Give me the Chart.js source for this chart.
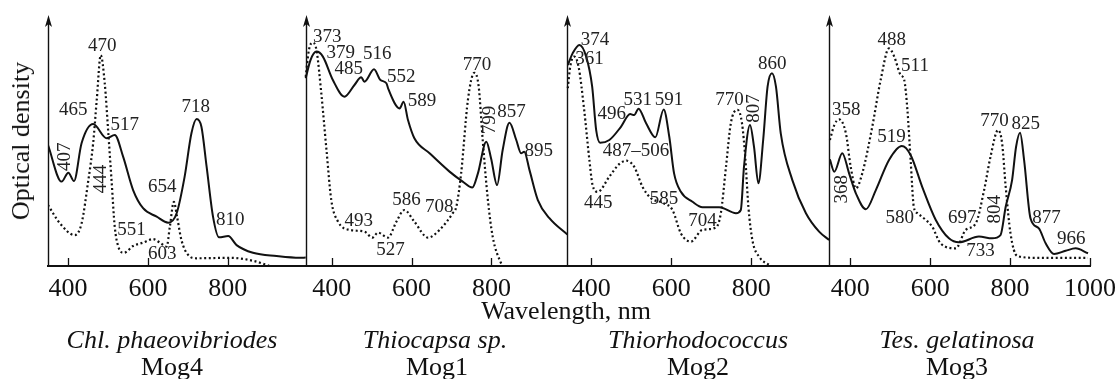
<!DOCTYPE html>
<html><head><meta charset="utf-8">
<script src="https://cdn.jsdelivr.net/npm/chart.js@4"></script>
<style>
html,body{margin:0;padding:0;background:#fff;}
#wrap{position:relative;width:1115px;height:379px;overflow:hidden;background:#fff;}
canvas{position:absolute;left:0;top:0;}
.t{position:absolute;font-family:"Liberation Serif","Times New Roman",serif;font-size:26px;line-height:26px;color:#111;white-space:nowrap;transform:translateX(-50%);}
.i{font-style:italic;}
#ylab{left:21px;top:141px;transform:translate(-50%,-50%) rotate(-90deg);}
</style></head><body>
<div id="wrap">
<canvas id="c" width="1115" height="379"></canvas>
<div class="t" id="ylab">Optical density</div>
<div class="t" style="left:566px;top:298px;">Wavelength, nm</div>
<div class="t i" style="left:172px;top:327px;">Chl. phaeovibriodes</div>
<div class="t" style="left:172px;top:354px;">Mog4</div>
<div class="t i" style="left:435px;top:327px;">Thiocapsa sp.</div>
<div class="t" style="left:437px;top:354px;">Mog1</div>
<div class="t i" style="left:698px;top:327px;">Thiorhodococcus</div>
<div class="t" style="left:698px;top:354px;">Mog2</div>
<div class="t i" style="left:957px;top:327px;">Tes. gelatinosa</div>
<div class="t" style="left:957px;top:354px;">Mog3</div>
</div>
<script>
// ---- Data: [wavelength nm, optical density (arb. units)] ----
const mog4Solid = [[350,48.6],[384,33.9],[401,37.5],[415,34.1],[434,49.3],[463,57],[497,51.3],[517,52.6],[538,43.9],[563,30.5],[588,23.2],[622,19.8],[651,17.4],[672,21.2],[692,35.9],[709,53.3],[722,59],[734,55.9],[747,39.9],[763,19.8],[778,11.5],[801,12],[822,8.4],[863,5.3],[922,4],[980,3.3],[995,3.4]];
const mog4Dotted = [[350,24.5],[380,17.1],[417,12.4],[434,17.1],[451,34.5],[463,49.3],[472,66.7],[482,84.7],[492,73.4],[501,53.3],[509,34.5],[517,15.8],[526,7.8],[540,5.3],[563,8],[588,9.4],[613,10.8],[630,9.4],[647,7.8],[655,15.8],[665,25.8],[673,19.8],[684,10.4],[701,4.4],[722,3.1],[805,3.3],[863,2.1],[905,0]];
const mog1Solid = [[335,75.4],[347,82.7],[362,86.1],[378,84.1],[403,74.7],[432,68],[457,72.7],[474,75.8],[482,74],[506,79],[522,74.7],[537,73.4],[542,71],[570,63.3],[580,66],[591,58.6],[607,51.3],[645,45.3],[695,37.9],[728,33.9],[752,31.5],[766,37.2],[787,49.9],[799,43.2],[814,32.5],[828,46.6],[845,57.5],[862,50.6],[874,45.3],[882,45.9],[895,38.6],[916,26.5],[945,19.2],[990,12.6]];
const mog1Dotted = [[335,76],[343,86.7],[352,89.7],[362,86.7],[374,69.4],[387,46.6],[399,26.5],[416,17.8],[445,14.5],[482,13.8],[502,11.4],[516,13.4],[541,11.4],[562,17.8],[582,22.5],[607,17.8],[641,11.4],[670,14.5],[703,21.2],[712,23.8],[724,37.2],[741,66.7],[757,77.6],[768,72],[778,50.6],[791,26.5],[803,11.8],[824,1.1],[828,0]];
const mog2Solid = [[341,80.7],[353,85.4],[370,88.8],[387,84.1],[402,72],[412,54.6],[422,49.5],[445,50.6],[474,55.9],[497,61],[507,60.6],[518,63.2],[537,57.3],[560,51.7],[581,62.9],[595,51.9],[607,37.2],[624,29.8],[653,25.8],[678,23.6],[720,23.6],[762,21.2],[774,22.5],[782,39.9],[797,56.6],[807,47.9],[818,33.2],[830,50.6],[841,72],[852,77.4],[862,72],[874,53.3],[903,34.5],[937,21.2],[970,13.8],[995,10.5]];
const mog2Dotted = [[341,71.4],[347,80],[357,84.1],[368,80],[382,62.7],[395,42.6],[403,32.5],[416,29.8],[445,35.9],[470,41],[488,42.3],[507,39.9],[528,31.8],[549,27.2],[578,25.4],[603,22.5],[624,13.1],[649,9.8],[678,14.5],[712,15.5],[724,21.2],[737,39.9],[749,57.3],[766,62.7],[777,57.3],[785,43.9],[793,23.8],[803,10.4],[820,3.7],[849,0]];
const mog3Solid = [[349,42.8],[360,37.9],[380,45.3],[397,37.2],[414,29.2],[439,22.8],[464,30.5],[497,42.6],[529,48.2],[551,44.6],[580,31.8],[614,18.5],[647,11.1],[672,9.5],[722,11.8],[755,11.1],[776,12.4],[789,23.8],[805,34.5],[815,47.9],[825,53.5],[835,42.6],[851,19.2],[872,15.1],[889,9.1],[910,4.8],[939,6.1],[964,7.1],[995,5.1]];
const mog3Dotted = [[349,50.6],[360,56.6],[372,58.9],[389,53.3],[401,39.9],[414,31.2],[430,37.2],[455,55.9],[476,74.7],[497,87.4],[510,84.1],[526,76.7],[535,74.7],[543,62.7],[551,42.6],[559,23.8],[568,21.2],[589,18.5],[605,15.8],[626,9.1],[664,7.1],[689,14.5],[714,17.1],[735,30.5],[751,43.9],[770,54.6],[780,49.3],[789,31.8],[801,13.1],[818,4],[864,3.3],[995,3.3]];

// panel wavelength ranges and tick labels
const panelMin = [350, 335, 340, 347];
const panelMax = [995, 990, 995, 1000];
const panelTicks = [[400,600,800],[400,600,800],[400,600,800],[400,600,800,1000]];

// peak labels: [wavelength, density, text, rotated]
const labels4 = [[486,88.9,'470'],[413,62.9,'465'],[542,57,'517'],[389,43.9,'407',1],[481,34.9,'444',1],[636,32.2,'654'],[720,64.3,'718'],[806,18.9,'810'],[559,14.9,'551'],[636,5.4,'603']];
const labels1 = [[389,92.4,'373'],[423,86.1,'379'],[443,79.7,'485'],[514,85.4,'516'],[574,76.4,'552'],[626,66.7,'589'],[764,81.3,'770'],[795,58.6,'799',1],[850,62.3,'857'],[918,46.6,'895'],[468,18.6,'493'],[547,6.9,'527'],[587,26.8,'586'],[669,24,'708']];
const labels2 = [[409,91.2,'374'],[395,83.7,'361'],[451,61.4,'496'],[516,67,'531'],[594,67,'591'],[512,46.6,'487–506'],[417,25.7,'445'],[582,27.5,'585'],[678,18.6,'704'],[746,67,'770'],[804,63.3,'807',1],[853,81.7,'860']];
const labels3 = [[504,91.2,'488'],[562,80.7,'511'],[390,63.1,'358'],[503,52.3,'519'],[376,30.8,'368',1],[524,19.5,'580'],[680,19.5,'697'],[726,6.4,'733'],[761,22.8,'804',1],[761,58.8,'770'],[839,57.3,'825'],[891,19.5,'877'],[953,11.4,'966']];

// ---- build ----
const offs = []; let acc = 0;
for (let p = 0; p < 4; p++) { offs.push(acc); acc += panelMax[p] - panelMin[p]; }
const total = acc;
const toX = (p, nm) => offs[p] + nm - panelMin[p];

const series = [[mog4Solid, mog4Dotted], [mog1Solid, mog1Dotted], [mog2Solid, mog2Dotted], [mog3Solid, mog3Dotted]];
const panelLabels = [labels4, labels1, labels2, labels3];
const INK = '#111';
const datasets = [];
series.forEach((pair, p) => {
  pair.forEach((arr, k) => {
    datasets.push({
      data: arr.map(([nm, v]) => ({x: toX(p, nm), y: v})),
      borderColor: INK, borderWidth: k === 0 ? 2 : 2.2,
      borderDash: k === 0 ? [] : [2, 2.6],
      pointRadius: 0, tension: 0.4, cubicInterpolationMode: 'monotone',
      fill: false
    });
  });
});
const tickItems = [];
panelTicks.forEach((arr, p) => arr.forEach(nm => tickItems.push({p, nm, value: toX(p, nm)})));

const decor = {
  id: 'decor',
  afterDatasetsDraw(chart) {
    const ctx = chart.ctx, xs = chart.scales.x, ys = chart.scales.y;
    const a = chart.chartArea;
    ctx.save();
    ctx.strokeStyle = INK; ctx.fillStyle = INK;
    // y axes with arrows
    for (let p = 0; p < 4; p++) {
      const x = Math.round(xs.getPixelForValue(offs[p])) + 0.5;
      ctx.lineWidth = 1.4;
      ctx.beginPath(); ctx.moveTo(x, a.bottom); ctx.lineTo(x, a.top + 6); ctx.stroke();
      ctx.beginPath(); ctx.moveTo(x, a.top - 2); ctx.lineTo(x - 3.5, a.top + 10); ctx.lineTo(x, a.top + 7); ctx.lineTo(x + 3.5, a.top + 10); ctx.closePath(); ctx.fill();
    }
    // inward ticks
    ctx.lineWidth = 1.3;
    tickItems.forEach(t => {
      const x = Math.round(xs.getPixelForValue(t.value)) + 0.5;
      ctx.beginPath(); ctx.moveTo(x, a.bottom); ctx.lineTo(x, a.bottom - 8); ctx.stroke();
    });
    // peak labels
    ctx.font = '19px "Liberation Serif", "Times New Roman", serif';
    ctx.fillStyle = '#222';
    ctx.textAlign = 'center'; ctx.textBaseline = 'middle';
    panelLabels.forEach((arr, p) => arr.forEach(([nm, v, txt, rot]) => {
      const x = xs.getPixelForValue(toX(p, nm)), y = ys.getPixelForValue(v);
      if (rot) { ctx.save(); ctx.translate(x, y); ctx.rotate(-Math.PI / 2); ctx.fillText(txt, 0, 1); ctx.restore(); }
      else ctx.fillText(txt, x, y + 1);
    }));
    ctx.restore();
  }
};

new Chart(document.getElementById('c'), {
  type: 'line',
  data: {datasets},
  options: {
    responsive: false, animation: false, devicePixelRatio: 1,
    layout: {padding: {left: 48, top: 17, right: 25, bottom: 0}},
    plugins: {legend: {display: false}, tooltip: {enabled: false}, title: {display: false}},
    scales: {
      x: {
        type: 'linear', min: 0, max: total,
        afterBuildTicks: s => { s.ticks = tickItems.map(t => ({value: t.value})); },
        afterFit: s => { s.height = 113; s.paddingLeft = 0; s.paddingRight = 0; },
        ticks: {
          autoSkip: false, maxRotation: 0, padding: 8, color: INK,
          font: {family: '"Liberation Serif", "Times New Roman", serif', size: 26},
          callback: (v, i) => String(tickItems[i] ? tickItems[i].nm : '')
        },
        grid: {display: false, drawTicks: false},
        border: {display: true, color: INK, width: 2}
      },
      y: {display: false, min: 0, max: 100}
    }
  },
  plugins: [decor]
});
</script>
</body></html>
